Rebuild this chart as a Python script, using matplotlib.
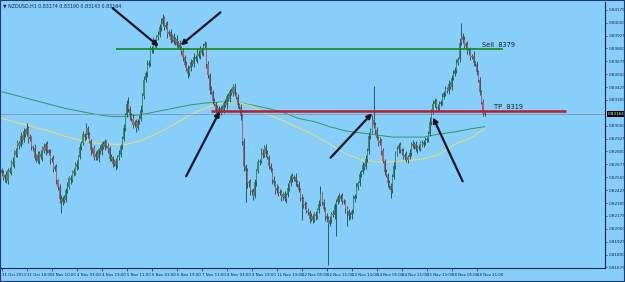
import numpy as np
import matplotlib.pyplot as plt
from matplotlib.patches import Rectangle
from matplotlib.transforms import blended_transform_factory

# NZDUSD H1, 31 Oct - 18 Nov 2013
symbol = "NZDUSD,H1"
first_open = 0.8262

closes = [
    0.8259, 0.8254, 0.8257, 0.8251, 0.8262, 0.8260, 0.8270, 0.8268, 0.8280, 0.8277,
    0.8288, 0.8285, 0.8295, 0.8291, 0.8300, 0.8297, 0.8303, 0.8292, 0.8294, 0.8284,
    0.8283, 0.8274, 0.8277, 0.8271, 0.8278, 0.8275, 0.8284, 0.8280, 0.8287, 0.8281,
    0.8279, 0.8272, 0.8273, 0.8263, 0.8265, 0.8252, 0.8246, 0.8234, 0.8231, 0.8235,
    0.8233, 0.8243, 0.8246, 0.8254, 0.8252, 0.8261, 0.8259, 0.8268, 0.8265, 0.8275,
    0.8284, 0.8288, 0.8297, 0.8294, 0.8303, 0.8296, 0.8290, 0.8281, 0.8283, 0.8275,
    0.8278, 0.8274, 0.8282, 0.8280, 0.8287, 0.8284, 0.8290, 0.8285, 0.8283, 0.8273,
    0.8275, 0.8268, 0.8271, 0.8266, 0.8275, 0.8277, 0.8285, 0.8292, 0.8303, 0.8315,
    0.8326, 0.8321, 0.8315, 0.8312, 0.8306, 0.8309, 0.8303, 0.8310, 0.8312, 0.8320,
    0.8334, 0.8349, 0.8356, 0.8364, 0.8366, 0.8378, 0.8380, 0.8386, 0.8383, 0.8391,
    0.8393, 0.8401, 0.8404, 0.8409, 0.8401, 0.8403, 0.8394, 0.8396, 0.8388, 0.8392,
    0.8386, 0.8389, 0.8383, 0.8385, 0.8380, 0.8377, 0.8372, 0.8364, 0.8361, 0.8355,
    0.8361, 0.8367, 0.8365, 0.8372, 0.8370, 0.8376, 0.8373, 0.8378, 0.8376, 0.8382,
    0.8384, 0.8365, 0.8354, 0.8340, 0.8338, 0.8329, 0.8326, 0.8320, 0.8322, 0.8318,
    0.8322, 0.8320, 0.8327, 0.8325, 0.8334, 0.8331, 0.8339, 0.8337, 0.8343, 0.8336,
    0.8333, 0.8325, 0.8323, 0.8314, 0.8290, 0.8266, 0.8261, 0.8249, 0.8250, 0.8242,
    0.8241, 0.8237, 0.8250, 0.8261, 0.8270, 0.8271, 0.8279, 0.8277, 0.8284, 0.8278,
    0.8275, 0.8266, 0.8262, 0.8252, 0.8249, 0.8242, 0.8245, 0.8240, 0.8241, 0.8236,
    0.8239, 0.8234, 0.8238, 0.8245, 0.8249, 0.8256, 0.8253, 0.8255, 0.8250, 0.8248,
    0.8243, 0.8235, 0.8234, 0.8228, 0.8229, 0.8222, 0.8221, 0.8215, 0.8217, 0.8214,
    0.8219, 0.8217, 0.8223, 0.8229, 0.8239, 0.8231, 0.8224, 0.8217, 0.8215, 0.8210,
    0.8214, 0.8219, 0.8218, 0.8228, 0.8231, 0.8236, 0.8234, 0.8237, 0.8232, 0.8231,
    0.8224, 0.8222, 0.8217, 0.8218, 0.8222, 0.8234, 0.8237, 0.8246, 0.8249, 0.8258,
    0.8260, 0.8267, 0.8265, 0.8273, 0.8280, 0.8295, 0.8300, 0.8311, 0.8306, 0.8301,
    0.8293, 0.8288, 0.8290, 0.8280, 0.8271, 0.8260, 0.8257, 0.8249, 0.8247, 0.8243,
    0.8255, 0.8266, 0.8278, 0.8282, 0.8286, 0.8281, 0.8280, 0.8275, 0.8277, 0.8272,
    0.8275, 0.8279, 0.8287, 0.8285, 0.8287, 0.8282, 0.8284, 0.8283, 0.8288, 0.8286,
    0.8289, 0.8291, 0.8292, 0.8297, 0.8309, 0.8318, 0.8326, 0.8329, 0.8323, 0.8322,
    0.8326, 0.8328, 0.8333, 0.8337, 0.8341, 0.8339, 0.8345, 0.8343, 0.8351, 0.8355,
    0.8359, 0.8366, 0.8370, 0.8385, 0.8392, 0.8388, 0.8382, 0.8384, 0.8377, 0.8378,
    0.8372, 0.8373, 0.8366, 0.8365, 0.8357, 0.8349, 0.8338, 0.8328, 0.83174, 0.83164,
]

# wick lengths above / below the body, in pips
wick_up = [
    2, 3, 1, 4, 2, 3, 2, 5, 1, 3,   3, 2, 4, 1, 3, 2, 5, 2, 3, 1,
    2, 4, 1, 3, 2, 3, 1, 4, 2, 3,   1, 3, 2, 4, 2, 3, 1, 2, 4, 2,
    3, 2, 4, 2, 3, 1, 3, 2, 4, 2,   4, 2, 3, 1, 5, 2, 3, 2, 1, 3,
    2, 3, 1, 4, 2, 3, 2, 1, 3, 2,   3, 1, 2, 3, 2, 4, 2, 3, 4, 2,
    4, 7, 3, 2, 4, 2, 3, 2, 3, 5,   3, 4, 2, 5, 3, 4, 2, 5, 3, 2,
    4, 3, 5, 4, 2, 3, 4, 2, 3, 2,   3, 2, 4, 2, 3, 2, 3, 2, 4, 3,
    2, 3, 2, 4, 2, 3, 2, 4, 2, 3,   3, 2, 3, 2, 4, 2, 3, 2, 3, 2,
    2, 3, 2, 4, 2, 3, 2, 3, 2, 3,   2, 3, 2, 3, 2, 3, 2, 3, 2, 3,
    2, 4, 3, 2, 3, 2, 4, 3, 2, 3,   3, 2, 3, 2, 4, 2, 3, 2, 3, 2,
    2, 3, 2, 4, 3, 2, 3, 2, 4, 2,   3, 2, 4, 2, 3, 2, 3, 2, 3, 2,
    2, 3, 2, 4, 8, 2, 3, 2, 3, 2,   3, 2, 4, 2, 3, 2, 4, 2, 3, 2,
    2, 3, 2, 3, 2, 4, 2, 3, 2, 3,   2, 3, 2, 4, 3, 4, 3, 4, 33, 3,
    3, 2, 4, 2, 3, 2, 3, 2, 3, 2,   3, 4, 2, 3, 2, 3, 2, 3, 2, 3,
    2, 3, 2, 4, 2, 3, 2, 3, 2, 3,   2, 3, 2, 3, 4, 3, 4, 3, 2, 3,
    3, 2, 4, 2, 3, 2, 4, 2, 3, 4,   3, 4, 2, 5, 13, 3, 4, 2, 3, 2,
    3, 2, 4, 2, 3, 2, 3, 2, 3, 1.6,
]
wick_dn = [
    3, 2, 4, 2, 3, 1, 3, 2, 4, 2,   2, 3, 1, 4, 2, 3, 2, 4, 2, 3,
    3, 2, 4, 2, 3, 2, 4, 1, 3, 2,   2, 4, 2, 3, 2, 4, 3, 4, 11, 3,
    3, 2, 3, 2, 4, 2, 3, 2, 3, 2,   2, 3, 2, 4, 2, 3, 2, 4, 2, 3,
    3, 2, 4, 2, 3, 2, 3, 2, 4, 2,   2, 3, 2, 4, 2, 3, 2, 3, 2, 3,
    2, 3, 4, 2, 3, 2, 4, 2, 3, 2,   2, 3, 2, 4, 2, 3, 2, 4, 2, 3,
    3, 2, 4, 2, 3, 2, 4, 2, 3, 2,   2, 3, 2, 4, 2, 3, 4, 2, 3, 4,
    2, 3, 2, 3, 2, 4, 2, 3, 2, 3,   2, 4, 3, 4, 2, 3, 2, 3, 2, 3,
    3, 2, 3, 2, 4, 2, 3, 2, 3, 2,   2, 3, 2, 3, 4, 5, 30, 4, 3, 4,
    3, 4, 2, 3, 2, 3, 2, 3, 2, 3,   2, 3, 2, 4, 2, 3, 2, 3, 2, 4,
    3, 2, 4, 2, 3, 2, 3, 2, 3, 2,   2, 3, 20, 3, 4, 2, 3, 4, 2, 3,
    2, 3, 2, 3, 2, 3, 2, 4, 3, 40,  2, 3, 2, 3, 30, 2, 3, 2, 3, 2,
    4, 14, 3, 2, 3, 2, 3, 2, 3, 2,  3, 2, 3, 2, 3, 2, 3, 2, 3, 4,
    2, 3, 2, 3, 2, 3, 2, 3, 3, 8,   3, 2, 3, 2, 3, 2, 3, 2, 3, 2,
    3, 2, 3, 2, 3, 2, 3, 2, 3, 2,   2, 3, 2, 3, 2, 3, 2, 3, 2, 3,
    3, 2, 3, 2, 3, 2, 3, 2, 3, 2,   2, 3, 2, 3, 2, 3, 2, 3, 2, 3,
    3, 2, 3, 2, 3, 2, 3, 2, 3, 2.1,
]

# two moving averages, sampled every 10 bars
ma_bars = list(range(0, 310, 10)) + [309]
ma_green = [0.8338, 0.8334, 0.8330, 0.8326, 0.8322, 0.8319, 0.8316, 0.8314,
            0.8314, 0.8316, 0.8319, 0.8322, 0.8325, 0.8327, 0.8328, 0.8328,
            0.8325, 0.8322, 0.8318, 0.8312, 0.8309, 0.8304, 0.8300, 0.8298,
            0.8296, 0.8294, 0.8294, 0.8294, 0.8297, 0.8299, 0.8302, 0.8304]
ma_yellow = [0.8312, 0.8308, 0.8304, 0.8300, 0.8295, 0.8291, 0.8288, 0.8287,
             0.8287, 0.8291, 0.8298, 0.8306, 0.8315, 0.8322, 0.8327, 0.8328,
             0.8324, 0.8316, 0.8310, 0.8303, 0.8296, 0.8287, 0.8278, 0.8272,
             0.8270, 0.8270, 0.8271, 0.8273, 0.8277, 0.8287, 0.8293, 0.8302]

sell_level = 0.8379
tp_level = 0.8319

time_labels = ["31 Oct 2013", "31 Oct 18:00", "1 Nov 10:00", "4 Nov 03:00",
               "4 Nov 19:00", "5 Nov 11:00", "6 Nov 03:00", "6 Nov 19:00",
               "7 Nov 11:00", "8 Nov 03:00", "8 Nov 19:00", "11 Nov 13:00",
               "12 Nov 05:00", "12 Nov 21:00", "13 Nov 13:00", "14 Nov 05:00",
               "14 Nov 21:00", "15 Nov 13:00", "18 Nov 05:00", "18 Nov 21:00"]
# 0.83175 sits under the price tag, so it is left out
price_ticks = [0.84175, 0.84050, 0.83925, 0.83800, 0.83675, 0.83550, 0.83425,
               0.83300, 0.83050, 0.82925, 0.82800, 0.82675, 0.82550, 0.82425,
               0.82300, 0.82175, 0.82050, 0.81925, 0.81800, 0.81675]

# hand-drawn arrows: (start bar, start price, end bar, end price)
arrows = [(71, 0.8419, 100.5, 0.8382),
          (140, 0.8415, 114.5, 0.8383),
          (118, 0.8256, 139.5, 0.8319),
          (210.5, 0.8274, 237, 0.8317),
          (295, 0.8251, 276, 0.8313)]

bg = "#87CEFA"
ink = "#12254a"
small = ["Liberation Sans Narrow", "DejaVu Sans"]

c = np.array(closes)
o = np.array([first_open] + closes[:-1])
h = np.maximum(o, c) + np.array(wick_up) * 0.0001
l = np.minimum(o, c) - np.array(wick_dn) * 0.0001
x = np.arange(len(c))

fig = plt.figure(figsize=(6.25, 2.82), dpi=100, facecolor=bg)
ax = fig.add_axes([1 / 625, 1 - 268 / 282, 604 / 625, 266 / 282])
ax.set_facecolor(bg)

# moving averages
ax.plot(ma_bars, ma_green, color="#2f9a5a", lw=0.7, zorder=1)
ax.plot(ma_bars, ma_yellow, color="#d9d98c", lw=0.9, zorder=1)

# bid line
ax.axhline(c[-1], color="#7c98b0", lw=0.6, zorder=1)

# candles
up = c >= o
ax.vlines(x, l, h, color="#1d4a4a", lw=0.6, zorder=2)
body = np.maximum(np.abs(c - o), 0.00002)
ax.bar(x[up], body[up], bottom=np.minimum(o, c)[up], width=0.7,
       color="#3d8f5f", linewidth=0, zorder=3)
ax.bar(x[~up], body[~up], bottom=np.minimum(o, c)[~up], width=0.7,
       color="#b85a66", linewidth=0, zorder=3)

# trade levels
ax.hlines(sell_level, 73, 320.5, color="#0f8a1a", lw=1.2, zorder=4)
ax.hlines(tp_level, 134, 361, color="#b81e30", lw=1.8, zorder=4)
ax.text(307.5, sell_level + 0.00012, f"Sell  {sell_level * 1e4:.0f}",
        fontsize=4.8, color="#1a2030", va="bottom", zorder=5)
ax.text(315, tp_level + 0.00012, f"TP  {tp_level * 1e4:.0f}",
        fontsize=4.8, color="#1a2030", va="bottom", zorder=5)

for x0, y0, x1, y1 in arrows:
    ax.annotate("", xy=(x1, y1), xytext=(x0, y0),
                arrowprops=dict(arrowstyle="-|>", color="#0d1522", lw=1.6,
                                mutation_scale=7, shrinkA=0, shrinkB=0),
                zorder=6)

ax.set_xlim(-0.5, 386.1)
ax.set_ylim(0.8167, 0.8425)

# axes look
for side in ("left", "top"):
    ax.spines[side].set_visible(False)
for side in ("right", "bottom"):
    ax.spines[side].set_color(ink)
    ax.spines[side].set_linewidth(0.8)

ax.yaxis.tick_right()
ax.set_yticks(price_ticks)
ax.set_yticklabels([f"{p:.5f}" for p in price_ticks], family=small)
ax.tick_params(axis="y", labelsize=3.0, colors=ink, length=1.5, width=0.5, pad=1)
ax.set_xticks(np.arange(0, 320, 16))
ax.set_xticklabels(time_labels, ha="left", family=small)
ax.tick_params(axis="x", labelsize=2.8, colors=ink, length=2, width=0.5, pad=1.5)

# current price tag on the scale
tr = blended_transform_factory(ax.transAxes, ax.transData)
ax.text(1.004, c[-1], f"{c[-1]:.5f}", transform=tr, fontsize=3.0, color="white",
        family=small, va="center", ha="left",
        bbox=dict(boxstyle="square,pad=0.15", facecolor="black", edgecolor="none"),
        clip_on=False, zorder=7)

# header line
ax.text(0.004, 0.995, f"\u25bc {symbol} {o[-1]:.5f} {h[-1]:.5f} {l[-1]:.5f} {c[-1]:.5f}",
        transform=ax.transAxes, fontsize=3.4, color=ink, family=small,
        va="top", ha="left")

fig.patches.append(Rectangle((0, 0), 1, 1, transform=fig.transFigure, fill=False,
                             edgecolor="#1c3d6e", lw=1.5))

fig.savefig("out.png", dpi=100, facecolor=fig.get_facecolor())
